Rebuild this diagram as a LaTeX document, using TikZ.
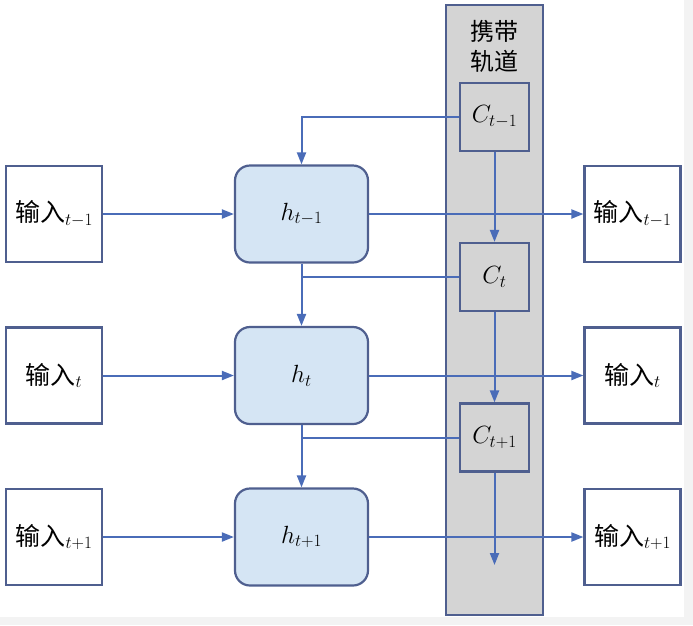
\documentclass[tikz,border=0pt]{standalone}
\usepackage{fontspec}
\newfontfamily\cjk{Noto Sans CJK SC}
\usetikzlibrary{arrows.meta}
\definecolor{lineblue}{HTML}{4A6CB8}
\definecolor{edgec}{HTML}{4F5F8F}
\definecolor{hfill}{HTML}{D5E5F4}
\definecolor{trackc}{HTML}{D4D4D4}
\definecolor{stripc}{HTML}{F3F3F3}
\begin{document}
\begin{tikzpicture}[x=1pt,y=-1pt,
  big/.style={font=\fontsize{25}{30}\selectfont},
  inbox/.style={draw=edgec, line width=2.2pt, fill=white, minimum width=96pt, minimum height=96pt, inner sep=0pt, big},
  hbox/.style={draw=edgec, line width=2.2pt, fill=hfill, rounded corners=15pt, minimum width=133pt, minimum height=97pt, inner sep=0pt, big},
  cbox/.style={draw=edgec, line width=2.2pt, fill=trackc, minimum width=69pt, minimum height=68pt, inner sep=0pt, big},
  trackbox/.style={draw=edgec, line width=2.2pt, fill=trackc, minimum width=97pt, minimum height=610pt, inner sep=0pt},
  conn/.style={draw=lineblue, line width=2pt},
  arr/.style={conn, -{Triangle[length=12pt,width=9pt]}}
]
\useasboundingbox (0,0) rectangle (693,625);
\fill[stripc] (684,0) rectangle (693,625);
\fill[stripc] (0,617) rectangle (693,625);

% carry track
\node[trackbox] (track) at (494.5,310) {};
\node[align=center, inner sep=0pt, font=\fontsize{24}{30}\selectfont\cjk] (title) at (494.5,46) {携带\\轨道};

% C nodes
\node[cbox] (C1) at (494.5,117) {$C_{t-1}$};
\node[cbox] (C2) at (494.5,277) {$C_{t}$};
\node[cbox] (C3) at (494.5,437.5) {$C_{t+1}$};
\coordinate (Cend) at (494.5,565);

% h nodes
\node[hbox] (h1) at (301.5,214) {$h_{t-1}$};
\node[hbox] (h2) at (301.5,375.5) {$h_{t}$};
\node[hbox] (h3) at (301.5,537) {$h_{t+1}$};

% inputs
\node[inbox] (i1) at (54,214) {{\cjk 输入}$_{t-1}$};
\node[inbox] (i2) at (54,375.5) {{\cjk 输入}$_{t}$};
\node[inbox] (i3) at (54,537) {{\cjk 输入}$_{t+1}$};

% outputs
\node[inbox] (o1) at (632.5,214) {{\cjk 输入}$_{t-1}$};
\node[inbox] (o2) at (632.5,375.5) {{\cjk 输入}$_{t}$};
\node[inbox] (o3) at (632.5,537) {{\cjk 输入}$_{t+1}$};

% carry vertical arrows
\draw[arr] (C1.south) -- (C2.north);
\draw[arr] (C2.south) -- (C3.north);
\draw[arr] (C3.south) -- (Cend);

% C_{t-1} to h_{t-1}
\draw[arr] (C1.west) -| (h1.north);

% h chain
\draw[arr] (h1.south) -- (h2.north);
\draw[arr] (h2.south) -- (h3.north);
\coordinate (b1) at (h1.south |- C2.west);
\coordinate (b2) at (h2.south |- C3.west);
\draw[conn] (b1) -- (C2.west);
\draw[conn] (b2) -- (C3.west);

% inputs to h
\draw[arr] (i1.east) -- (h1.west);
\draw[arr] (i2.east) -- (h2.west);
\draw[arr] (i3.east) -- (h3.west);

% h to outputs
\draw[arr] (h1.east) -- (o1.west);
\draw[arr] (h2.east) -- (o2.west);
\draw[arr] (h3.east) -- (o3.west);
\end{tikzpicture}
\end{document}
